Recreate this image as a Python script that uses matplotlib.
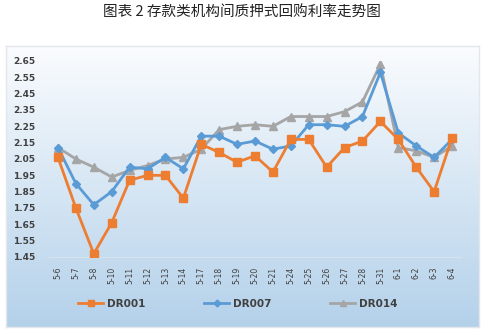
import numpy as np
import matplotlib
matplotlib.use("Agg")
import matplotlib.pyplot as plt
from matplotlib.lines import Line2D

dates = ["5-6", "5-7", "5-8", "5-10", "5-11", "5-12", "5-13", "5-14", "5-17", "5-18",
         "5-19", "5-20", "5-21", "5-24", "5-25", "5-26", "5-27", "5-28", "5-31",
         "6-1", "6-2", "6-3", "6-4"]
dr001 = [2.06, 1.75, 1.47, 1.66, 1.92, 1.95, 1.95, 1.81, 2.14, 2.09,
         2.03, 2.07, 1.97, 2.17, 2.17, 2.00, 2.12, 2.16, 2.28,
         2.17, 2.00, 1.85, 2.18]
dr007 = [2.12, 1.90, 1.77, 1.85, 2.00, 1.99, 2.06, 1.99, 2.19, 2.19,
         2.14, 2.16, 2.11, 2.13, 2.26, 2.26, 2.25, 2.31, 2.58,
         2.21, 2.13, 2.06, 2.17]
dr014 = [2.12, 2.05, 2.00, 1.94, 1.98, 2.01, 2.05, 2.06, 2.11, 2.23,
         2.25, 2.26, 2.25, 2.31, 2.31, 2.31, 2.34, 2.40, 2.63,
         2.12, 2.10, 2.06, 2.13]
yticks = [1.45, 1.55, 1.65, 1.75, 1.85, 1.95, 2.05, 2.15, 2.25, 2.35, 2.45, 2.55, 2.65]

plt.rcParams['font.family'] = ['Noto Sans CJK SC', 'DejaVu Sans']

W, H = 486, 334
fig = plt.figure(figsize=(W / 100, H / 100), dpi=100)
fig.patch.set_facecolor("white")

# Title
fig.text(242 / W, 1 - 13 / H, "图表 2 存款类机构间质押式回购利率走势图",
         ha="center", va="center", fontsize=10.5, color="#222222")

# Chart frame with vertical gradient
bx0, bx1, by0, by1 = 6, 479, 46, 327
bg = fig.add_axes([bx0 / W, 1 - by1 / H, (bx1 - bx0) / W, (by1 - by0) / H], zorder=0)
top = np.array([250, 252, 254]) / 255
bot = np.array([180, 209, 234]) / 255
t = np.linspace(0, 1, 256)[:, None]
grad = top[None, :] * (1 - t) + bot[None, :] * t
bg.imshow(grad[:, None, :], aspect="auto", extent=[0, 1, 0, 1])
bg.set_xticks([])
bg.set_yticks([])
for s in bg.spines.values():
    s.set_color("#e3e6ea")
    s.set_linewidth(1)

# Main plot area
ax0, ax1, ay_top, ay_bot = 49, 461, 61, 257
ax = fig.add_axes([ax0 / W, 1 - ay_bot / H, (ax1 - ax0) / W, (ay_bot - ay_top) / H], zorder=1)
ax.patch.set_alpha(0)
x = np.arange(len(dates))

ax.plot(x, dr014, color="#a5a5a5", lw=2.0, marker="^", ms=6, zorder=3, label="DR014")
ax.plot(x, dr007, color="#5b9bd5", lw=2.0, marker="D", ms=4.2, zorder=4, label="DR007")
ax.plot(x, dr001, color="#ed7d31", lw=2.0, marker="s", ms=5.5, zorder=5, label="DR001")

ax.set_xlim(-0.5, len(dates) - 0.5)
ax.set_ylim(1.45, 2.65)
ax.set_yticks(yticks)
ax.set_yticklabels([f"{v:.2f}" for v in yticks], fontsize=6.5, fontweight="bold",
                   color="#404040", family=["DejaVu Sans"])
ax.set_xticks(x)
ax.set_xticklabels(dates, rotation=90, fontsize=5.5, color="#404040",
                   family=["DejaVu Sans"])
ax.tick_params(axis="y", length=0, pad=10)
ax.tick_params(axis="x", length=0, pad=7)
for side in ["top", "right", "left"]:
    ax.spines[side].set_visible(False)
ax.spines["bottom"].set_color("#d6e2ec")
ax.spines["bottom"].set_linewidth(0.8)
for lbl in ax.get_xticklabels():
    lbl.set_verticalalignment("top")

# Legend
handles = [
    Line2D([], [], color="#ed7d31", lw=2, marker="s", ms=5),
    Line2D([], [], color="#5b9bd5", lw=2, marker="D", ms=3.5),
    Line2D([], [], color="#a5a5a5", lw=2, marker="^", ms=5),
]
leg = fig.legend(handles, ["DR001", "DR007", "DR014"], loc="center",
                 bbox_to_anchor=(238 / W, 1 - 304 / H), ncol=3, frameon=False,
                 handlelength=2.4, handletextpad=0.4, columnspacing=5.6,
                 prop={"family": "DejaVu Sans", "size": 7.5, "weight": "bold"})
for txt in leg.get_texts():
    txt.set_color("#404040")

fig.savefig("out.png", dpi=100, facecolor="white")
